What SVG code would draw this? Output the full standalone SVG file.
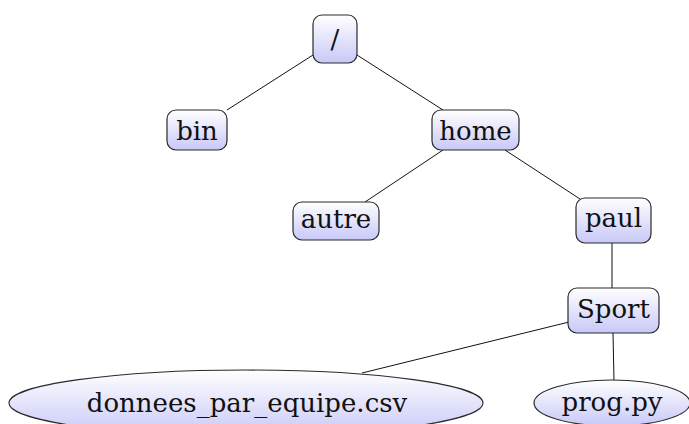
<svg xmlns="http://www.w3.org/2000/svg" width="689" height="424" viewBox="0 0 689 424">
  <defs>
    <linearGradient id="fillGrad" x1="0" y1="0" x2="0" y2="1">
      <stop offset="0" stop-color="#ffffff"/>
      <stop offset="1" stop-color="#c8c8f8"/>
    </linearGradient>
  </defs>
  <style>
    .node { fill: url(#fillGrad); stroke: #2a2a2a; stroke-width: 1.2; }
    .label { font-family: 'DejaVu Serif', serif; font-size: 26px; fill: #111; text-anchor: middle; }
    .edge { stroke: #111; stroke-width: 1; fill: none; }
  </style>

  <g id="connectors">
    <line class="edge" x1="313" y1="55" x2="227" y2="110"/>
    <line class="edge" x1="357" y1="55" x2="443" y2="110"/>
    <line class="edge" x1="443" y1="150" x2="365" y2="202"/>
    <line class="edge" x1="505" y1="150" x2="580" y2="199"/>
    <line class="edge" x1="612" y1="243" x2="612" y2="288"/>
    <line class="edge" x1="569" y1="322" x2="362" y2="373"/>
    <line class="edge" x1="613" y1="333" x2="614" y2="381"/>
  </g>

  <g id="root">
    <rect class="node" x="313" y="15" width="44" height="48" rx="9"/>
    <text class="label" x="335" y="48">/</text>
  </g>
  <g id="bin">
    <rect class="node" x="167" y="110" width="60" height="40" rx="9"/>
    <text class="label" x="197" y="140">bin</text>
  </g>
  <g id="home">
    <rect class="node" x="432" y="110" width="87" height="40" rx="9"/>
    <text class="label" x="475.5" y="140">home</text>
  </g>
  <g id="autre">
    <rect class="node" x="293" y="202" width="86" height="38" rx="9"/>
    <text class="label" x="336" y="228">autre</text>
  </g>
  <g id="paul">
    <rect class="node" x="576" y="198" width="75" height="45" rx="9"/>
    <text class="label" x="613.5" y="227">paul</text>
  </g>
  <g id="sport">
    <rect class="node" x="568" y="288" width="91" height="45" rx="9"/>
    <text class="label" x="613.5" y="318">Sport</text>
  </g>
  <g id="donnees">
    <ellipse class="node" cx="246" cy="403" rx="237" ry="33"/>
    <text class="label" x="247" y="412">donnees_par_equipe.csv</text>
  </g>
  <g id="prog">
    <ellipse class="node" cx="612" cy="403" rx="78" ry="23"/>
    <text class="label" x="612" y="411">prog.py</text>
  </g>
</svg>
